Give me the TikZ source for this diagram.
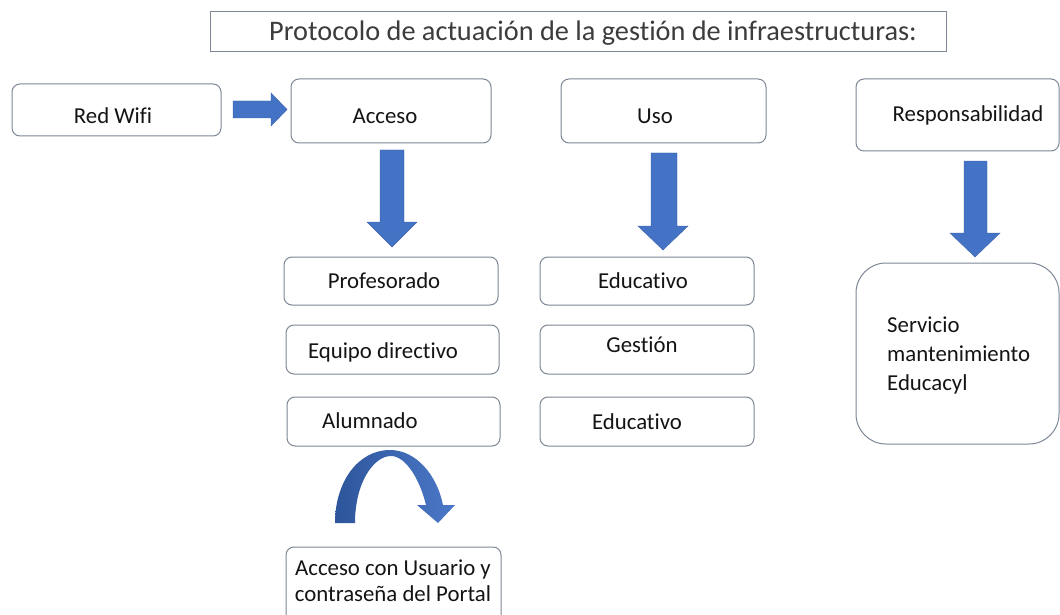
\documentclass[tikz,border=0pt]{standalone}
\usepackage{fontspec}
\setmainfont{Carlito}[Ligatures=NoCommon]
\begin{document}
\begin{tikzpicture}[x=1pt,y=-1pt,
  boxline/.style={draw={rgb,255:red,125;green,135;blue,150}, line width=1pt},
  rbox/.style={boxline, rounded corners=8pt},
  txt/.style={font=\fontsize{22.8}{28}\selectfont, text={rgb,255:red,20;green,20;blue,20}, inner sep=0pt},
  barrow/.style={fill={rgb,255:red,68;green,114;blue,196}, draw={rgb,255:red,60;green,100;blue,175}, line width=0.4pt}]
\useasboundingbox (0,0) rectangle (1060,615);
\fill[white] (0,0) rectangle (1060,615);
% title
\draw[boxline] (210,12) rectangle (946,52);
\node[font=\fontsize{28.3}{32}\selectfont, text={rgb,255:red,60;green,60;blue,60}, inner sep=0pt] (title) at (593,33) {Protocolo de actuación de la gestión de infraestructuras:};
% boxes
\draw[rbox] (12,84) rectangle (221,136);
\node[txt] (wifi) at (113,116) {Red Wifi};
\draw[rbox] (291,79) rectangle (491,143);
\node[txt] (acceso) at (385,116) {Acceso};
\draw[rbox] (561,79) rectangle (766,143);
\node[txt] (uso) at (655,116) {Uso};
\draw[rbox] (856,79) rectangle (1059,151);
\node[txt] (resp) at (968,115) {Responsabilidad};

\draw[rbox] (284,257) rectangle (498,305);
\node[txt] (prof) at (384,281) {Profesorado};
\draw[rbox] (286,325) rectangle (499,374);
\node[txt] (equipo) at (383,352) {Equipo directivo};
\draw[rbox] (287,397) rectangle (500,446);
\node[txt] (alum) at (370,421) {Alumnado};

\draw[rbox] (540,257) rectangle (754,305);
\node[txt] (edu1) at (643,281) {Educativo};
\draw[rbox] (540,325) rectangle (754,374);
\node[txt] (gest) at (642,345) {Gestión};
\draw[rbox] (540,397) rectangle (754,446);
\node[txt] (edu2) at (637,422) {Educativo};

\draw[boxline, rounded corners=30pt] (856,263) rectangle (1059,444);
\node[txt, align=left, anchor=west, font=\fontsize{22.8}{29}\selectfont] (serv) at (887,355) {Servicio\\mantenimiento\\Educacyl};

\draw[rbox] (286,547) rectangle (501,625);
\node[txt, align=center, font=\fontsize{22.8}{26}\selectfont] (portal) at (393,581) {Acceso con Usuario y\\contraseña del Portal};

% block arrows
\draw[barrow] (233,101) -- (271,101) -- (271,93) -- (287,109.5) -- (271,126) -- (271,118) -- (233,118) -- cycle;
\draw[barrow] (380,150) -- (404,150) -- (404,222) -- (417,222) -- (392,247) -- (367,222) -- (380,222) -- cycle;
\draw[barrow] (651,153) -- (677,153) -- (677,226) -- (688,226) -- (663,250) -- (638,226) -- (651,226) -- cycle;
\draw[barrow] (964,161) -- (987,161) -- (987,233) -- (1000,233) -- (975,257) -- (950,233) -- (964,233) -- cycle;

% curved arrow
\shade[left color={rgb,255:red,45;green,85;blue,155}, right color={rgb,255:red,75;green,120;blue,200}]
  (335,523) .. controls (335,482) and (358,450) .. (390,450)
  .. controls (416,450) and (437,475) .. (443,505)
  -- (455,505) -- (438,523) -- (417,505) -- (426,505)
  .. controls (420,480) and (406,456) .. (391,456)
  .. controls (374,456) and (355,482) .. (355,523)
  -- cycle;
\end{tikzpicture}
\end{document}
